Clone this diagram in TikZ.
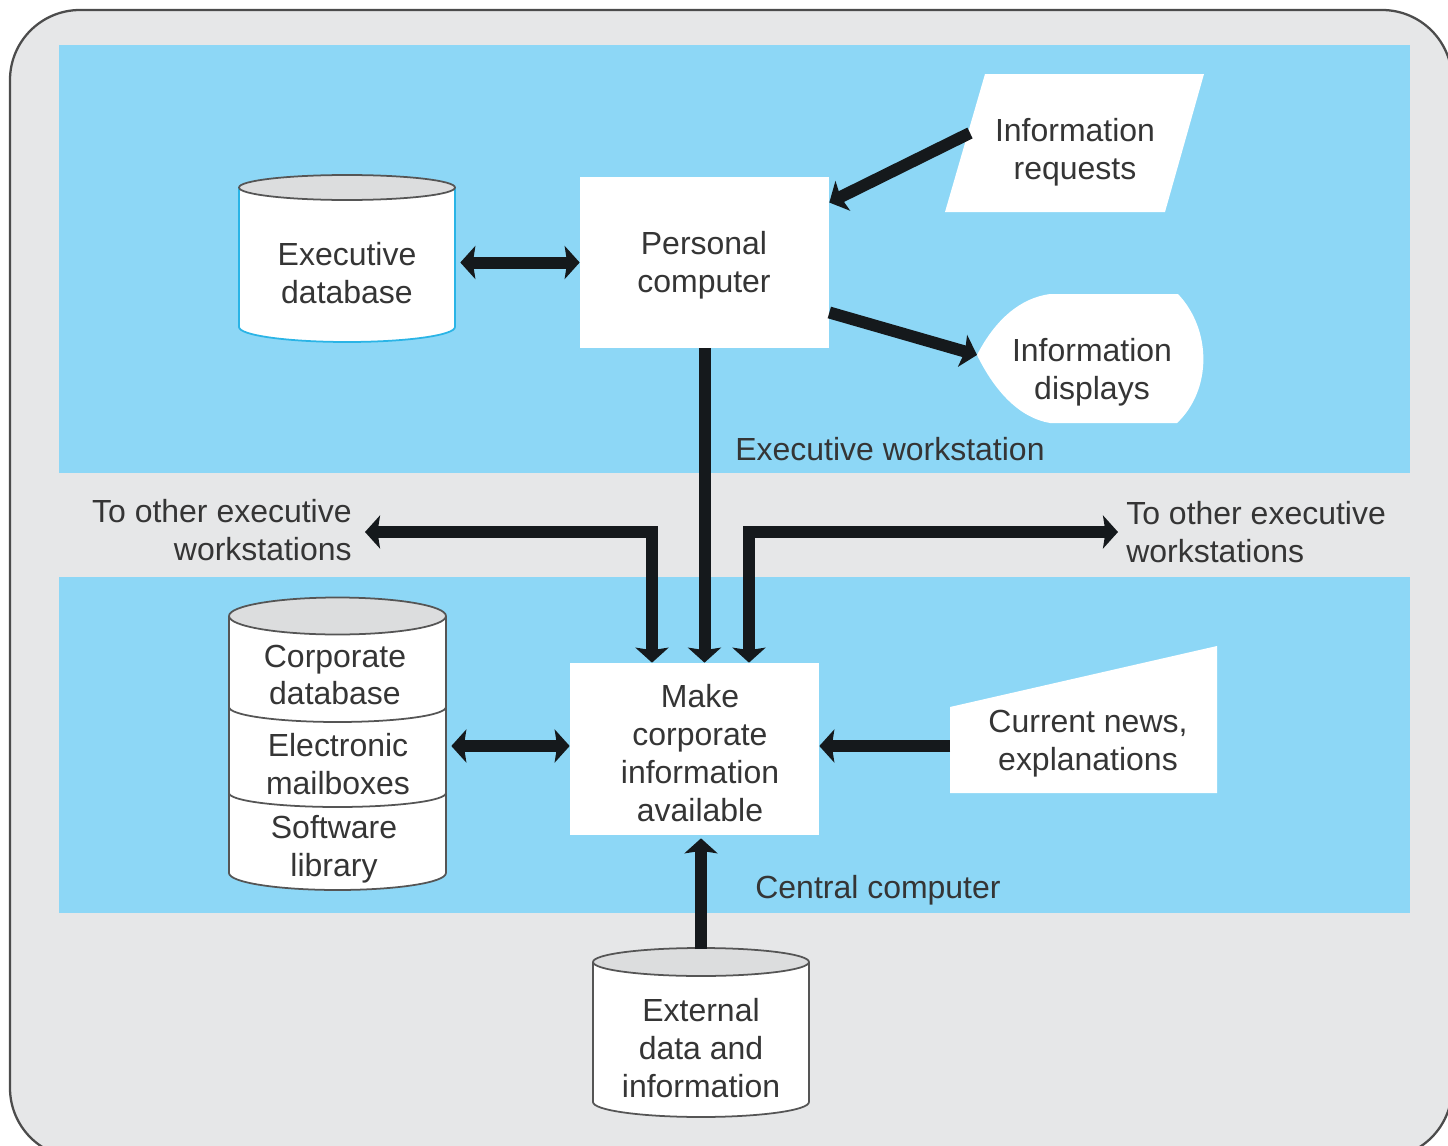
\documentclass[tikz,border=0pt]{standalone}
\usepackage{fontspec}
\setmainfont{Liberation Sans}
\usetikzlibrary{arrows.meta}
\definecolor{panel}{HTML}{E6E7E8}
\definecolor{band}{HTML}{8DD7F6}
\definecolor{ink}{HTML}{15191C}
\definecolor{txtc}{HTML}{353535}
\definecolor{lid}{HTML}{DCDDDE}
\definecolor{rimline}{HTML}{555555}
\definecolor{cyanline}{HTML}{2AB4E6}
\begin{document}
\begin{tikzpicture}[x=0.02cm,y=-0.02cm,
  fat/.tip={Stealth[width=0.66cm,length=0.3cm,inset=0.05cm]},
  lbl/.style={text=txtc, font=\fontsize{18.2}{21.6}\selectfont, align=center, inner sep=0pt},
  box/.style={fill=white, draw=none, inner sep=0pt, minimum width=4.98cm, minimum height=3.44cm},
  flow/.style={draw=ink, line width=0.24cm, -fat},
  both/.style={draw=ink, line width=0.24cm, fat-fat},
  cyl/.style={draw=rimline, line width=1pt},
]
\useasboundingbox (0,0) rectangle (1448,1146);
\clip (0,0) rectangle (1448,1146);

% frame and the two coloured bands
\draw[fill=panel, draw=gray!60!black, line width=1.3pt, rounded corners=1.4cm]
  (10,10) rectangle (1452,1158);
\fill[band] (59,45) rectangle (1410,473);
\fill[band] (59,577) rectangle (1410,913);

% executive database drum
\fill[white] (239,187.5) -- (239,327)
  arc[start angle=180,end angle=360,x radius=2.16cm,y radius=0.3cm] -- (455,187.5) -- cycle;
\draw[cyanline, line width=1pt] (239,187.5) -- (239,327)
  arc[start angle=180,end angle=360,x radius=2.16cm,y radius=0.3cm] -- (455,187.5);
\draw[cyl, fill=lid] (347,187.5) ellipse[x radius=2.16cm, y radius=0.25cm];

% corporate drum with three sections
\draw[cyl, fill=white] (229,616) -- (229,873)
  arc[start angle=180,end angle=360,x radius=2.17cm,y radius=0.34cm] -- (446,616);
\draw[cyl] (229,707) arc[start angle=180,end angle=360,x radius=2.17cm,y radius=0.3cm];
\draw[cyl] (229,793) arc[start angle=180,end angle=360,x radius=2.17cm,y radius=0.28cm];
\draw[cyl, fill=lid] (337.5,616) ellipse[x radius=2.17cm, y radius=0.37cm];

% external data drum
\draw[cyl, fill=white] (593,962) -- (593,1102)
  arc[start angle=180,end angle=360,x radius=2.16cm,y radius=0.3cm] -- (809,962);
\draw[cyl, fill=lid] (701,962) ellipse[x radius=2.16cm, y radius=0.28cm];

% input / output symbols
\fill[white] (945,212) -- (985,74) -- (1204,74) -- (1165,212) -- cycle;
\fill[white] (977,355) .. controls (995,320) and (1020,298) .. (1050,294) -- (1178,294)
  .. controls (1212,330) and (1212,390) .. (1177,423) -- (1050,423)
  .. controls (1020,418) and (995,392) .. (977,355) -- cycle;
\fill[white] (950,707) -- (1217,646) -- (1217,793) -- (950,793) -- cycle;

% process boxes and their captions
\node[box, minimum height=3.42cm] (pc) at (704.5,262.5) {};
\node[lbl] (pctext) at (704,265.5) {Personal\\computer};
\node[box] (make) at (694.5,749) {};
\node[lbl] (maketext) at (700,753) {Make\\corporate\\information\\available};

% store captions
\node[lbl, minimum width=4.32cm, minimum height=2.84cm] (execdb) at (347,273) {Executive\\database};
\node[inner sep=0pt, minimum width=4.34cm, minimum height=5.86cm] (corpdb) at (337.5,743.5) {};
\node[lbl] (corpA) at (335,675) {Corporate\\database};
\node[lbl] (corpB) at (338,764) {Electronic\\mailboxes};
\node[lbl] (corpC) at (334,849) {Software\\library};
\node[lbl, minimum width=4.32cm, minimum height=2.82cm] (ext) at (701,1048) {External\\data and\\information};

% input / output captions
\node[lbl] (req) at (1075,152) {Information\\requests};
\node[lbl] (disp) at (1092,372) {Information\\displays};
\node[lbl] (news) at (1088,744) {Current news,\\explanations};

% area and branch labels
\node[lbl, anchor=west] (wslabel) at (735,449) {Executive workstation};
\node[lbl, anchor=west] (cclabel) at (755,890) {Central computer};
\node[lbl, align=right, anchor=east] (toL) at (352,530) {To other executive\\workstations};
\node[lbl, align=left, anchor=west] (toR) at (1126,532) {To other executive\\workstations};

% attachment points on the drawn symbols
\coordinate (reqtail) at (970,133);
\coordinate (disptip) at (977,355);
\coordinate (newstail) at (950,746);
\coordinate (leftend) at (365,532);
\coordinate (leftbend) at (652,532);
\coordinate (rightend) at (1118,532);
\coordinate (rightbend) at (749,532);

% connectors
\draw[both, shorten <=0.1cm] (pc.west -| execdb.east) -- (pc.west);
\draw[flow] (reqtail) -- ([yshift=1.2cm]pc.east);
\draw[flow] ([yshift=-1cm]pc.east) -- (disptip);
\draw[flow] (pc.south) -- (pc.south |- make.north);
\draw[both] (leftend) -- (leftbend) -- (leftbend |- make.north);
\draw[both] (rightend) -- (rightbend) -- (rightbend |- make.north);
\draw[both, shorten <=0.1cm] (newstail -| corpdb.east) -- (newstail -| make.west);
\draw[flow] (newstail) -- (newstail -| make.east);
\draw[flow] ([yshift=0.56cm]ext.north) -- ([yshift=-0.06cm]ext.north |- make.south);
\end{tikzpicture}
\end{document}
